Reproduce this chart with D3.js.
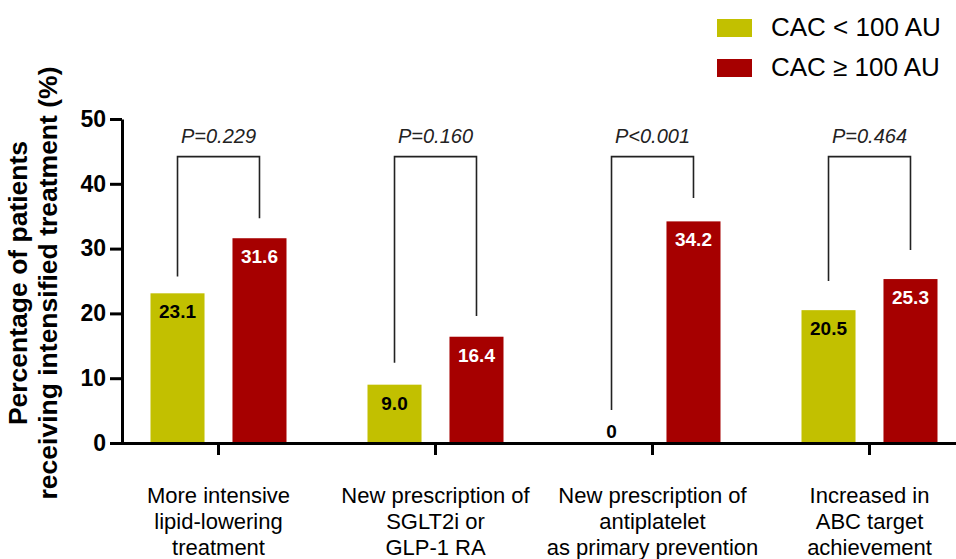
<!DOCTYPE html>
<html>
<head>
<meta charset="utf-8">
<script src="https://cdn.jsdelivr.net/npm/d3@7"></script>
<style>
  html, body { margin: 0; padding: 0; background: #fff; }
  svg { display: block; font-family: "Liberation Sans", Arial, sans-serif; }
</style>
</head>
<body>
<svg id="chart" width="956" height="559"></svg>
<script>
// Treatment categories (each entry is the label split into lines)
const categories = [
  ["More intensive", "lipid-lowering", "treatment"],
  ["New prescription of", "SGLT2i or", "GLP-1 RA"],
  ["New prescription of", "antiplatelet", "as primary prevention"],
  ["Increased in", "ABC target", "achievement"]
];
const seriesNames = ["CAC < 100 AU", "CAC \u2265 100 AU"];
// Percentage of patients receiving intensified treatment
const cacBelow100 = [23.1, 9.0, 0, 20.5];
const cacAbove100 = [31.6, 16.4, 34.2, 25.3];
// Comparison annotations
const pLabels = ["P=0.229", "P=0.160", "P<0.001", "P=0.464"];
const bracketTop = [44.2, 44.2, 44.2, 44.2];
const bracketLeftEnd = [25.7, 12.4, 5.1, 25.0];
const bracketRightEnd = [34.7, 19.6, 37.8, 29.8];
const yTicks = [0, 10, 20, 30, 40, 50];

const colors = ["#C2C000", "#A60000"];
const labelColors = ["#000", "#fff"];

const svg = d3.select("#chart");

const keys = categories.map((c, i) => "c" + i);
const x = d3.scaleBand().domain(keys).range([110, 978]).padding(0);
const xSub = d3.scaleBand().domain([0, 1]).range([40.5, 176.5]).paddingInner(0.341).paddingOuter(0);
const y = d3.scaleLinear().domain([0, 50]).range([443, 119]);

const rows = categories.map((c, i) => ({
  key: keys[i],
  lines: c,
  values: [cacBelow100[i], cacAbove100[i]],
  p: pLabels[i],
  top: bracketTop[i],
  ends: [bracketLeftEnd[i], bracketRightEnd[i]]
}));

// Bars
const g = svg.append("g");
const groups = g.selectAll("g.grp").data(rows).join("g")
  .attr("class", "grp")
  .attr("transform", d => `translate(${x(d.key)},0)`);

groups.selectAll("rect").data(d => d.values.map((v, j) => ({ v, j }))).join("rect")
  .attr("x", d => xSub(d.j))
  .attr("width", xSub.bandwidth())
  .attr("y", d => y(d.v))
  .attr("height", d => y(0) - y(d.v))
  .attr("fill", d => colors[d.j]);

// Value labels
groups.selectAll("text.val").data(d => d.values.map((v, j) => ({ v, j }))).join("text")
  .attr("class", "val")
  .attr("x", d => xSub(d.j) + xSub.bandwidth() / 2)
  .attr("y", d => d.v === 0 ? y(0) - 5 : y(d.v) + 25)
  .attr("text-anchor", "middle")
  .attr("font-size", 19)
  .attr("font-weight", "bold")
  .attr("fill", d => d.v === 0 ? "#000" : labelColors[d.j])
  .text(d => d.v === 0 ? "0" : d.v.toFixed(1));

// Significance brackets
groups.append("path")
  .attr("fill", "none")
  .attr("stroke", "#222")
  .attr("stroke-width", 1.6)
  .attr("d", d => {
    const xl = xSub(0) + xSub.bandwidth() / 2;
    const xr = xSub(1) + xSub.bandwidth() / 2;
    return `M${xl},${y(d.ends[0])}V${y(d.top)}H${xr}V${y(d.ends[1])}`;
  });

groups.append("text")
  .attr("x", (xSub(0) + xSub(1) + xSub.bandwidth()) / 2)
  .attr("y", d => y(d.top) - 14)
  .attr("text-anchor", "middle")
  .attr("font-size", 20)
  .attr("font-style", "italic")
  .attr("fill", "#222")
  .text(d => d.p);

// Axes
const xAxis = svg.append("g")
  .attr("transform", `translate(0,${y(0)})`)
  .call(d3.axisBottom(x).tickSize(12).tickSizeOuter(0).tickFormat(""));
xAxis.select(".domain").attr("stroke", "#000").attr("stroke-width", 3);
xAxis.selectAll(".tick line").attr("stroke", "#000").attr("stroke-width", 3);

const xLabels = xAxis.selectAll(".tick").data(rows).append("text")
  .attr("text-anchor", "middle")
  .attr("fill", "#000")
  .attr("font-size", 22)
  .attr("font-weight", "normal");
xLabels.selectAll("tspan").data(d => d.lines).join("tspan")
  .attr("x", 0)
  .attr("y", (d, i) => 60 + i * 26)
  .text(d => d);

const yAxis = svg.append("g")
  .attr("transform", "translate(122,0)")
  .call(d3.axisLeft(y).tickValues(yTicks).tickSize(12).tickSizeOuter(0).tickPadding(4));
yAxis.select(".domain").attr("stroke", "#000").attr("stroke-width", 3);
yAxis.selectAll(".tick line").attr("stroke", "#000").attr("stroke-width", 3);
yAxis.selectAll(".tick text")
  .attr("fill", "#000")
  .attr("font-size", 23)
  .attr("font-weight", "bold")
  .attr("font-family", "Liberation Sans, Arial, sans-serif");

// Y axis title
const title = svg.append("text")
  .attr("transform", `translate(27,${(y(0) + y(50)) / 2 + 2}) rotate(-90)`)
  .attr("text-anchor", "middle")
  .attr("font-size", 26.5)
  .attr("font-weight", "bold")
  .attr("fill", "#000");
title.append("tspan").attr("x", 0).attr("y", 0).text("Percentage of patients");
title.append("tspan").attr("x", 0).attr("y", 30).text("receiving intensified treatment (%)");

// Legend
const legend = svg.append("g").attr("transform", "translate(717,0)");
const items = legend.selectAll("g").data(seriesNames).join("g")
  .attr("transform", (d, i) => `translate(0,${36 + i * 40})`);
items.append("rect")
  .attr("x", 0).attr("y", -17).attr("width", 35).attr("height", 18)
  .attr("fill", (d, i) => colors[i]);
items.append("text")
  .attr("x", 54).attr("y", 0)
  .attr("font-size", 26)
  .attr("fill", "#000")
  .text(d => d);
</script>
</body>
</html>
